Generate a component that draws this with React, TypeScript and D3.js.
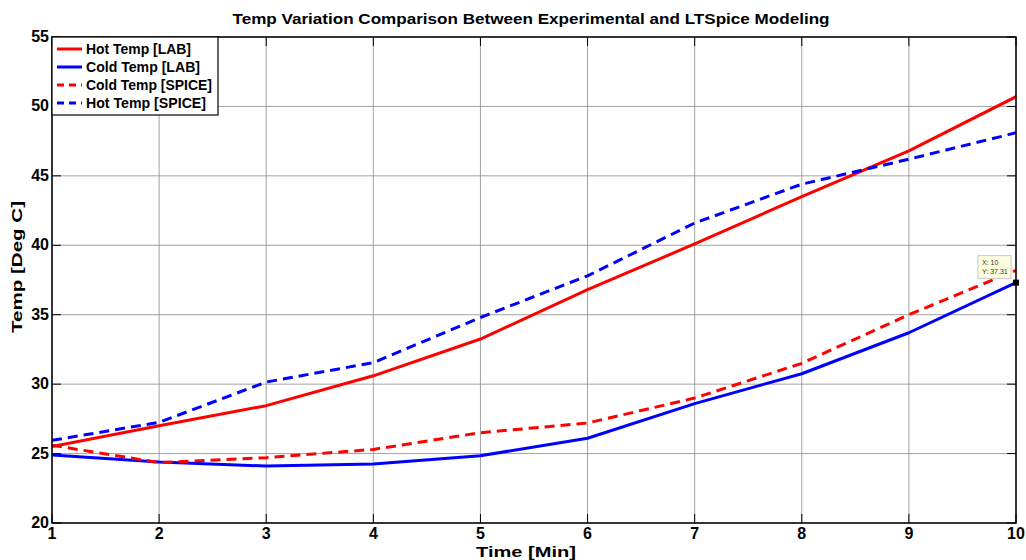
import React from "react";
import * as d3 from "d3";

const timeMin = [1, 2, 3, 4, 5, 6, 7, 8, 9, 10];
const hotLab = [25.5, 27.0, 28.45, 30.6, 33.25, 36.8, 40.1, 43.5, 46.8, 50.7];
const coldLab = [24.9, 24.4, 24.1, 24.25, 24.85, 26.1, 28.6, 30.75, 33.7, 37.31];
const coldSpice = [25.6, 24.35, 24.7, 25.3, 26.5, 27.2, 29.0, 31.5, 35.0, 38.2];
const hotSpice = [25.95, 27.25, 30.15, 31.55, 34.8, 37.8, 41.6, 44.4, 46.2, 48.1];
const xTicks = [1, 2, 3, 4, 5, 6, 7, 8, 9, 10];
const yTicks = [20, 25, 30, 35, 40, 45, 50, 55];

const series = [
  { name: "Hot Temp [LAB]", values: hotLab, color: "#ff0000", dash: "" },
  { name: "Cold Temp [LAB]", values: coldLab, color: "#0000ff", dash: "" },
  { name: "Cold Temp [SPICE]", values: coldSpice, color: "#ff0000", dash: "10,6" },
  { name: "Hot Temp [SPICE]", values: hotSpice, color: "#0000ff", dash: "10,6" },
];

export default function App() {
  const W = 1026, H = 560;
  const L = 52, R = 1016, T = 37, B = 523;
  const x = d3.scaleLinear().domain([1, 10]).range([L, R]);
  const y = d3.scaleLinear().domain([20, 55]).range([B, T]);
  const line = d3.line<number>().x((_, i) => x(timeMin[i])).y((d) => y(d));
  const font = "Arial, 'Liberation Sans', sans-serif";
  const tipX = x(10), tipY = y(coldLab[9]);
  return (
    <svg width={W} height={H} style={{ position: "absolute", left: 0, top: 0 }} fontFamily={font}>
      <rect x={0} y={0} width={W} height={H} fill="#fff" />
      <defs>
        <clipPath id="clip"><rect x={L} y={T} width={R - L} height={B - T} /></clipPath>
      </defs>
      {xTicks.map((t) => (
        <line key={"gx" + t} x1={x(t)} x2={x(t)} y1={T} y2={B} stroke="#8a8a8a" strokeWidth={0.8} />
      ))}
      {yTicks.map((t) => (
        <line key={"gy" + t} x1={L} x2={R} y1={y(t)} y2={y(t)} stroke="#8a8a8a" strokeWidth={0.8} />
      ))}
      {xTicks.map((t) => (
        <g key={"tx" + t}>
          <line x1={x(t)} x2={x(t)} y1={B} y2={B - 9} stroke="#000" strokeWidth={1} />
          <line x1={x(t)} x2={x(t)} y1={T} y2={T + 9} stroke="#000" strokeWidth={1} />
          <text x={x(t)} y={B + 16} textAnchor="middle" fontSize={16} fontWeight="bold">{t}</text>
        </g>
      ))}
      {yTicks.map((t) => (
        <g key={"ty" + t}>
          <line x1={L} x2={L + 9} y1={y(t)} y2={y(t)} stroke="#000" strokeWidth={1} />
          <line x1={R} x2={R - 9} y1={y(t)} y2={y(t)} stroke="#000" strokeWidth={1} />
          <text x={L - 3} y={y(t) + 5} textAnchor="end" fontSize={16} fontWeight="bold">{t}</text>
        </g>
      ))}
      <g clipPath="url(#clip)">
        {series.map((s) => (
          <path key={s.name} d={line(s.values) || ""} fill="none" stroke={s.color} strokeWidth={3}
            strokeDasharray={s.dash} strokeLinejoin="round" />
        ))}
      </g>
      <rect x={L} y={T} width={R - L} height={B - T} fill="none" stroke="#000" strokeWidth={1.5} />
      {/* data tip */}
      <rect x={tipX - 38} y={tipY - 27} width={33} height={23} fill="#ffffe0" stroke="#c8c8c8" strokeWidth={1} />
      <text x={tipX - 34} y={tipY - 18} fontSize={7} fill="#333">X: 10</text>
      <text x={tipX - 34} y={tipY - 9} fontSize={7} fill="#333">Y: 37.31</text>
      <rect x={tipX - 3} y={tipY - 3} width={6} height={6} fill="#000" />
      {/* legend */}
      <rect x={L} y={T} width={166} height={78} fill="#fff" stroke="#000" strokeWidth={1.2} />
      {series.map((s, i) => (
        <g key={"lg" + s.name}>
          <line x1={L + 5} x2={L + 30} y1={T + 12 + i * 18} y2={T + 12 + i * 18} stroke={s.color}
            strokeWidth={3} strokeDasharray={s.dash ? "7,5" : ""} />
          <text x={L + 34} y={T + 17 + i * 18} fontSize={14} fontWeight="bold"
            textLength={[105, 114, 126, 120][i]} lengthAdjust="spacingAndGlyphs">{s.name}</text>
        </g>
      ))}
      <text x={531} y={24} textAnchor="middle" fontSize={15} fontWeight="bold"
        textLength={597} lengthAdjust="spacingAndGlyphs">
        Temp Variation Comparison Between Experimental and LTSpice Modeling
      </text>
      <text x={526} y={557} textAnchor="middle" fontSize={15} fontWeight="bold"
        textLength={100} lengthAdjust="spacingAndGlyphs">Time [Min]</text>
      <text transform={`translate(22,267) rotate(-90)`} textAnchor="middle" fontSize={15} fontWeight="bold"
        textLength={132} lengthAdjust="spacingAndGlyphs">
        Temp [Deg C]
      </text>
    </svg>
  );
}
